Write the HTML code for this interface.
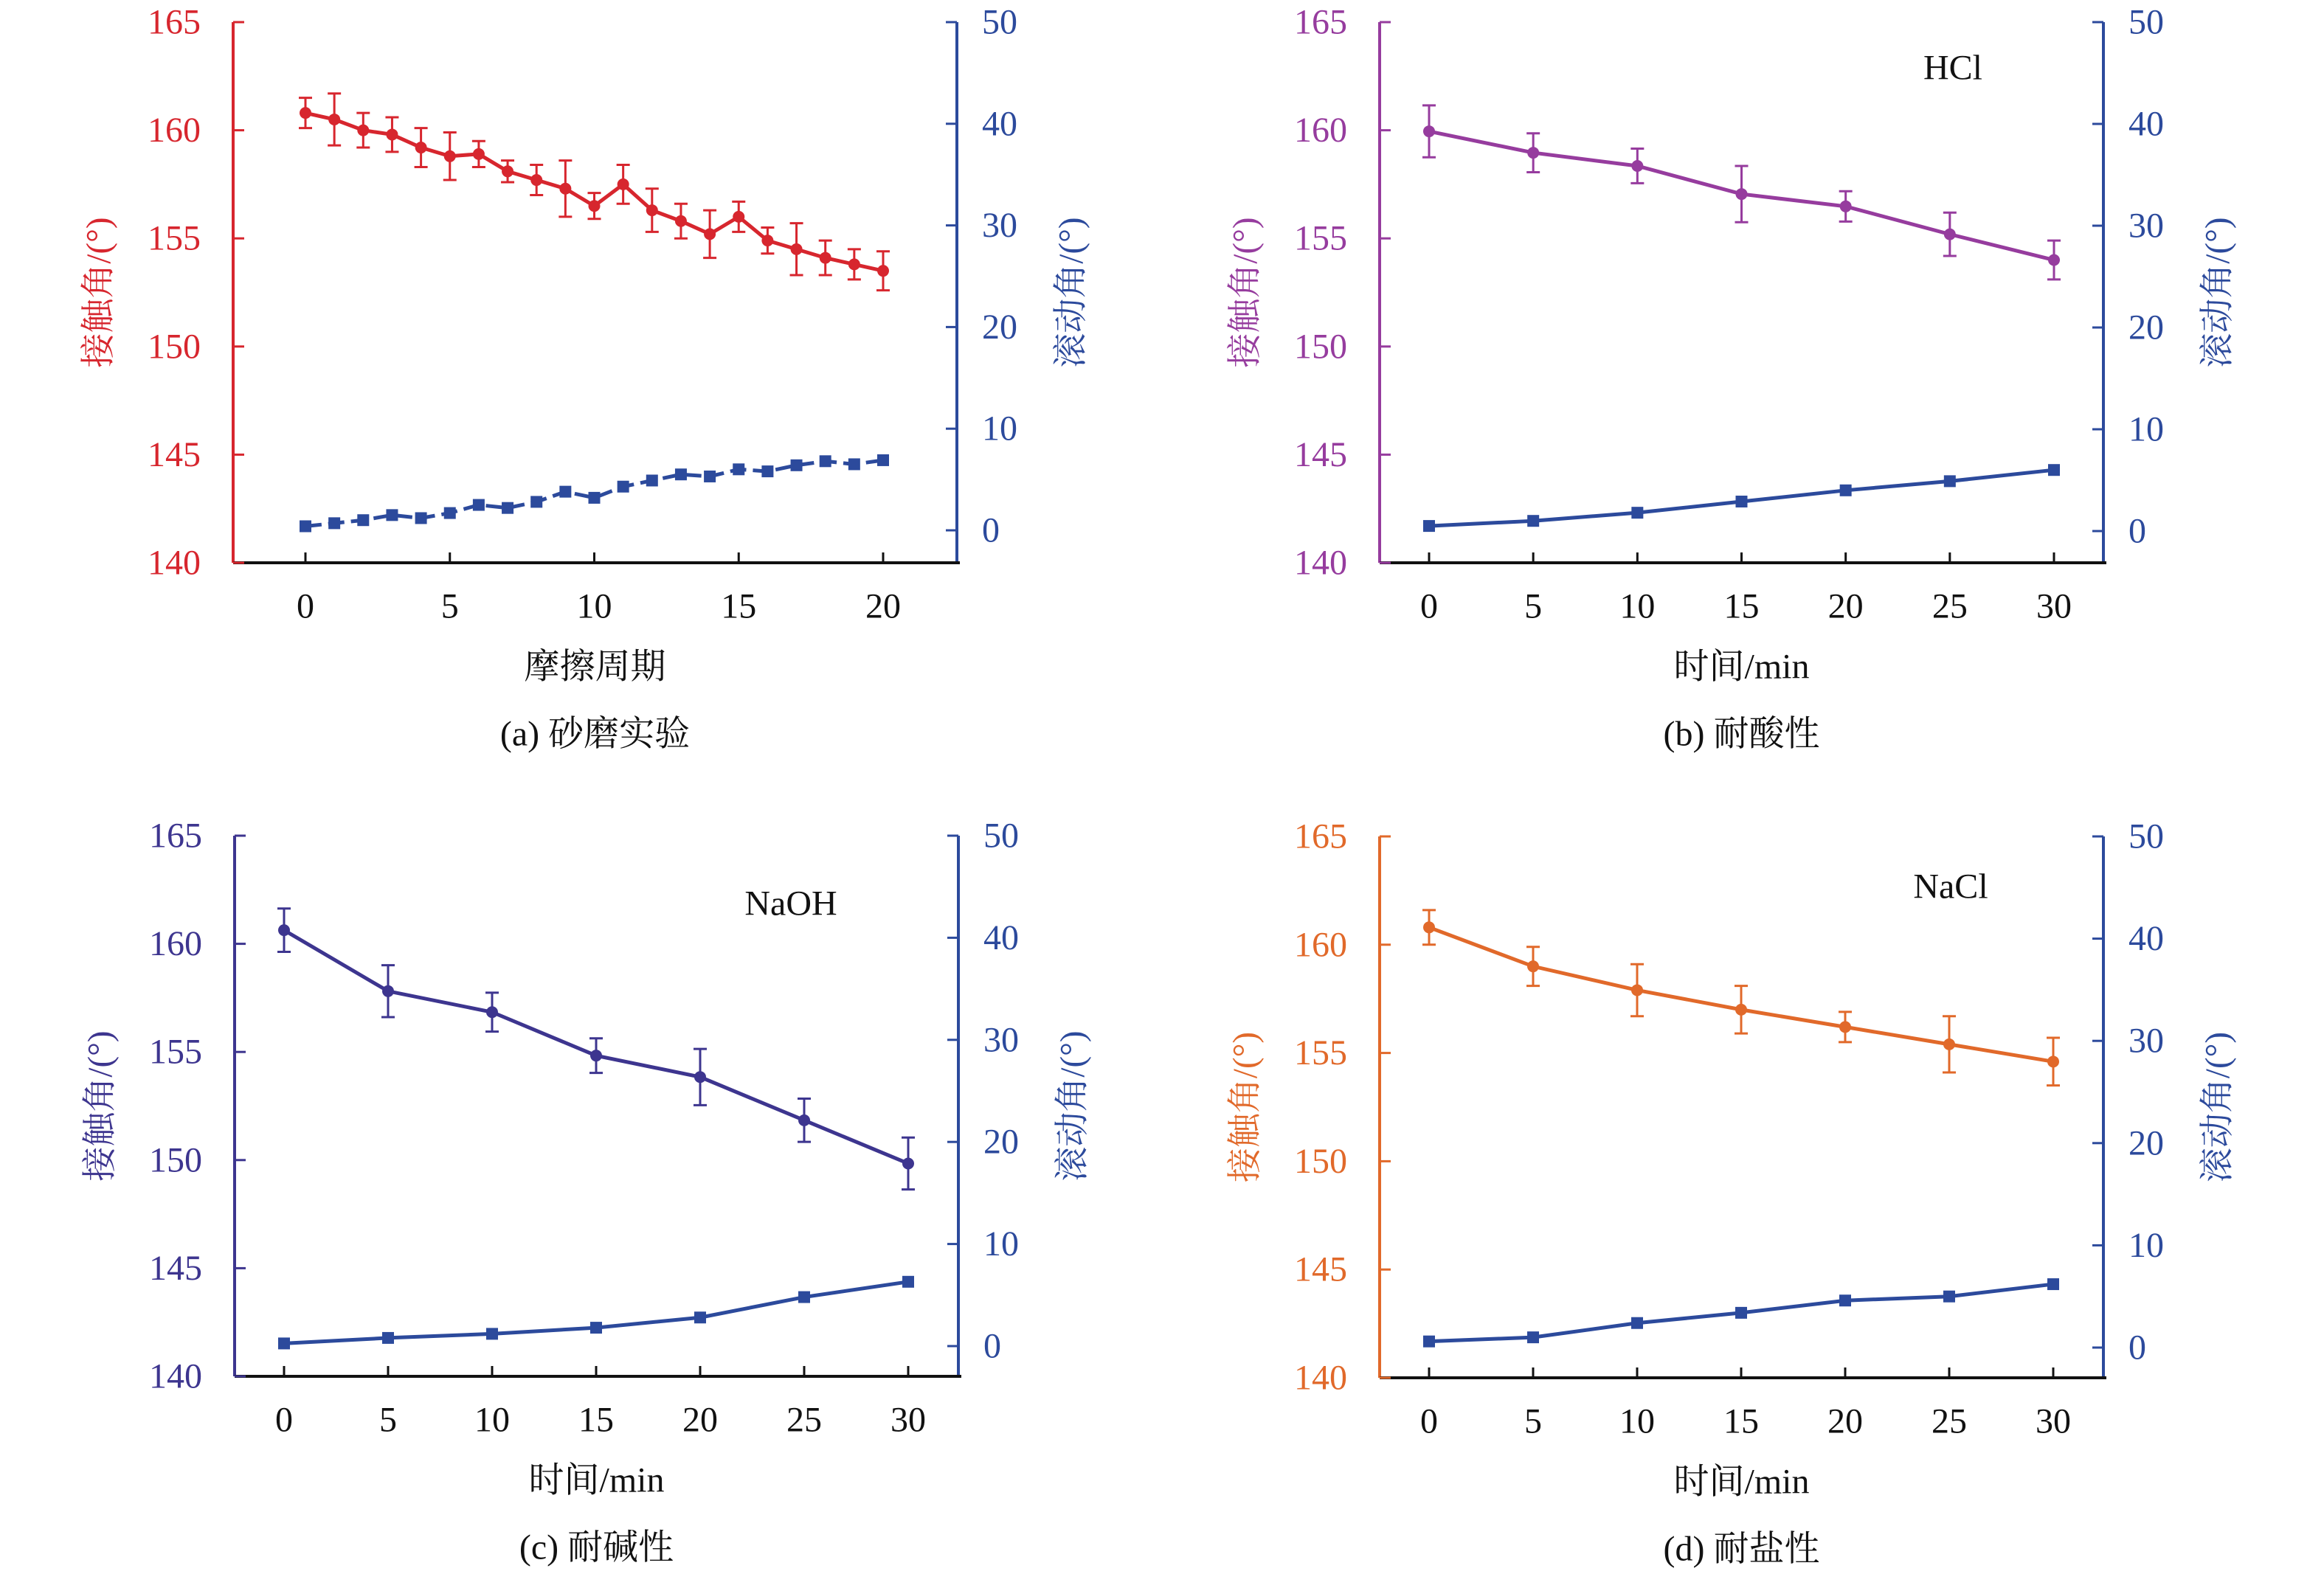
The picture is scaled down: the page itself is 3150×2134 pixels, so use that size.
<!DOCTYPE html>
<html><head><meta charset="utf-8"><style>
html,body{margin:0;padding:0;background:#fff;}
svg{display:block;}
text{font-family:"Liberation Serif","Noto Serif CJK SC",serif;}
</style></head><body>
<svg id="chart" width="3150" height="2134" viewBox="0 0 3150 2134" xmlns="http://www.w3.org/2000/svg"></svg>
<script>
// ---------- data ----------
const xA = [0,1,2,3,4,5,6,7,8,9,10,11,12,13,14,15,16,17,18,19,20];
const contactA = [160.8,160.5,160.0,159.8,159.2,158.8,158.9,158.1,157.7,157.3,156.5,157.5,156.3,155.8,155.2,156.0,154.9,154.5,154.1,153.8,153.5];
const errA = [0.7,1.2,0.8,0.8,0.9,1.1,0.6,0.5,0.7,1.3,0.6,0.9,1.0,0.8,1.1,0.7,0.6,1.2,0.8,0.7,0.9];
const slideA = [0.4,0.7,1.0,1.5,1.2,1.7,2.5,2.2,2.8,3.8,3.2,4.3,4.9,5.5,5.3,6.0,5.8,6.4,6.8,6.5,6.9];

const xT = [0,5,10,15,20,25,30];
const contactB = [159.95,158.96,158.35,157.05,156.48,155.19,154.0];
const errB = [1.2,0.9,0.8,1.3,0.7,1.0,0.9];
const slideB = [0.5,1.0,1.8,2.9,4.0,4.9,6.0];

const contactC = [160.63,157.81,156.84,154.83,153.84,151.84,149.84];
const errC = [1.0,1.2,0.9,0.8,1.3,1.0,1.2];
const slideC = [0.26,0.8,1.2,1.8,2.8,4.8,6.3];

const contactD = [160.8,159.0,157.9,157.0,156.2,155.4,154.6];
const errD = [0.8,0.9,1.2,1.1,0.7,1.3,1.1];
const slideD = [0.6,1.0,2.4,3.4,4.6,5.0,6.2];

const leftTicks = [140,145,150,155,160,165];
const rightTicks = [0,10,20,30,40,50];
const xTicksA = [0,5,10,15,20];
const xTicksT = [0,5,10,15,20,25,30];

const NS="http://www.w3.org/2000/svg";
const svg=document.getElementById('chart');
function el(tag,attrs,parent){const e=document.createElementNS(NS,tag);for(const k in attrs)e.setAttribute(k,attrs[k]);(parent||svg).appendChild(e);return e;}
const NAVY="#2c4a9c";

function panel(cfg){
  const g=el('g',{});
  
  
  const {L,R,T,B,r0}=cfg;
  const yL=v=>B-(v-140)/25*(B-T);
  const yR=v=>r0-v/50*(r0-T);
  const xS=v=>cfg.x0+(v-cfg.xmin)/(cfg.xmax-cfg.xmin)*(cfg.x1-cfg.x0);
  // axes
  const la=el('line',{x1:L,y1:T,x2:L,y2:B,stroke:cfg.color,'stroke-width':4},g);
  
  
  const ra=el('line',{x1:R,y1:T,x2:R,y2:B,stroke:NAVY,'stroke-width':4},g);
  
  
  const xa=el('line',{x1:L,y1:B,x2:R+4,y2:B,stroke:'#111','stroke-width':4},g);
  
  
  leftTicks.forEach(v=>{
    const y=yL(v);
    el('line',{x1:L,y1:y,x2:L+15,y2:y,stroke:cfg.color,'stroke-width':3},g);
    const t=el('text',{x:L-44,y:y,'text-anchor':'end','dominant-baseline':'central','font-size':48,fill:cfg.color},g);
    t.textContent=v;
    
    
  });
  rightTicks.forEach(v=>{
    const y=yR(v);
    el('line',{x1:R-15,y1:y,x2:R,y2:y,stroke:NAVY,'stroke-width':3},g);
    const t=el('text',{x:R+34,y:y,'text-anchor':'start','dominant-baseline':'central','font-size':48,fill:NAVY},g);
    t.textContent=v;
    
    
  });
  cfg.xticks.forEach(v=>{
    const x=xS(v);
    el('line',{x1:x,y1:B,x2:x,y2:B-14,stroke:'#111','stroke-width':3},g);
    const t=el('text',{x:x,y:B+59,'text-anchor':'middle','dominant-baseline':'central','font-size':48,fill:'#111'},g);
    t.textContent=v;
    
    
  });
  const cx=(L+R)/2, cy=(T+B)/2;
  const xl=el('text',{x:cx,y:B+141,'text-anchor':'middle','dominant-baseline':'central','font-size':48,fill:'#111'},g);
  xl.textContent=cfg.xlabel;
  
  
  const cap=el('text',{x:cx,y:B+232,'text-anchor':'middle','dominant-baseline':'central','font-size':48,fill:'#111'},g);
  cap.textContent=cfg.caption;
  
  
  const yl=el('text',{x:0,y:0,transform:`translate(${L-182},${cy}) rotate(-90)`,'text-anchor':'middle','dominant-baseline':'central','font-size':47,fill:cfg.color},g);
  yl.textContent='接触角/(°)';
  
  
  const yr=el('text',{x:0,y:0,transform:`translate(${R+155},${cy}) rotate(-90)`,'text-anchor':'middle','dominant-baseline':'central','font-size':47,fill:NAVY},g);
  yr.textContent='滚动角/(°)';
  
  
  if(cfg.note){
    const n=el('text',{x:cfg.note[1],y:cfg.note[2],'text-anchor':'middle','dominant-baseline':'central','font-size':48,fill:'#111'},g);
    n.textContent=cfg.note[0];
    
    
  }
  // slide angle series
  const sp=cfg.xs.map((v,i)=>xS(v)+','+yR(cfg.slide[i])).join(' ');
  const sl=el('polyline',{points:sp,fill:'none',stroke:NAVY,'stroke-width':5,'stroke-dasharray':cfg.dash?'22 9':'none'},g);
  
  
  cfg.xs.forEach((v,i)=>{
    const r=el('rect',{x:xS(v)-8,y:yR(cfg.slide[i])-8,width:16,height:16,fill:NAVY},g);
    
    
  });
  // contact angle series
  const cp=cfg.xs.map((v,i)=>xS(v)+','+yL(cfg.contact[i])).join(' ');
  const cl=el('polyline',{points:cp,fill:'none',stroke:cfg.color,'stroke-width':5},g);
  
  
  cfg.xs.forEach((v,i)=>{
    const x=xS(v), y1=yL(cfg.contact[i]+cfg.err[i]), y2=yL(cfg.contact[i]-cfg.err[i]);
    const eb=el('path',{d:`M${x},${y1}V${y2}M${x-9},${y1}H${x+9}M${x-9},${y2}H${x+9}`,stroke:cfg.color,'stroke-width':3,fill:'none'},g);
    
    
    const c=el('circle',{cx:x,cy:yL(cfg.contact[i]),r:8,fill:cfg.color},g);
    
    
  });
}
panel({name:'panel-a-abrasion',L:316,R:1297,T:30,B:763,r0:719,x0:414,x1:1197,xmin:0,xmax:20,xticks:xTicksA,xs:xA,contact:contactA,err:errA,slide:slideA,color:'#d7262e',dash:true,xlabel:'摩擦周期',caption:'(a) 砂磨实验'});
panel({name:'panel-b-acid',L:1870,R:2851,T:30,B:763,r0:720,x0:1937,x1:2784,xmin:0,xmax:30,xticks:xTicksT,xs:xT,contact:contactB,err:errB,slide:slideB,color:'#963c9e',xlabel:'时间/min',caption:'(b) 耐酸性',note:['HCl',2647,92]});
panel({name:'panel-c-alkali',L:318,R:1299,T:1133,B:1866,r0:1825,x0:385,x1:1231,xmin:0,xmax:30,xticks:xTicksT,xs:xT,contact:contactC,err:errC,slide:slideC,color:'#3d358f',xlabel:'时间/min',caption:'(c) 耐碱性',note:['NaOH',1072,1225]});
panel({name:'panel-d-salt',L:1870,R:2851,T:1134,B:1868,r0:1827,x0:1937,x1:2783,xmin:0,xmax:30,xticks:xTicksT,xs:xT,contact:contactD,err:errD,slide:slideD,color:'#e1692a',xlabel:'时间/min',caption:'(d) 耐盐性',note:['NaCl',2644,1202]});
</script>
</body></html>
